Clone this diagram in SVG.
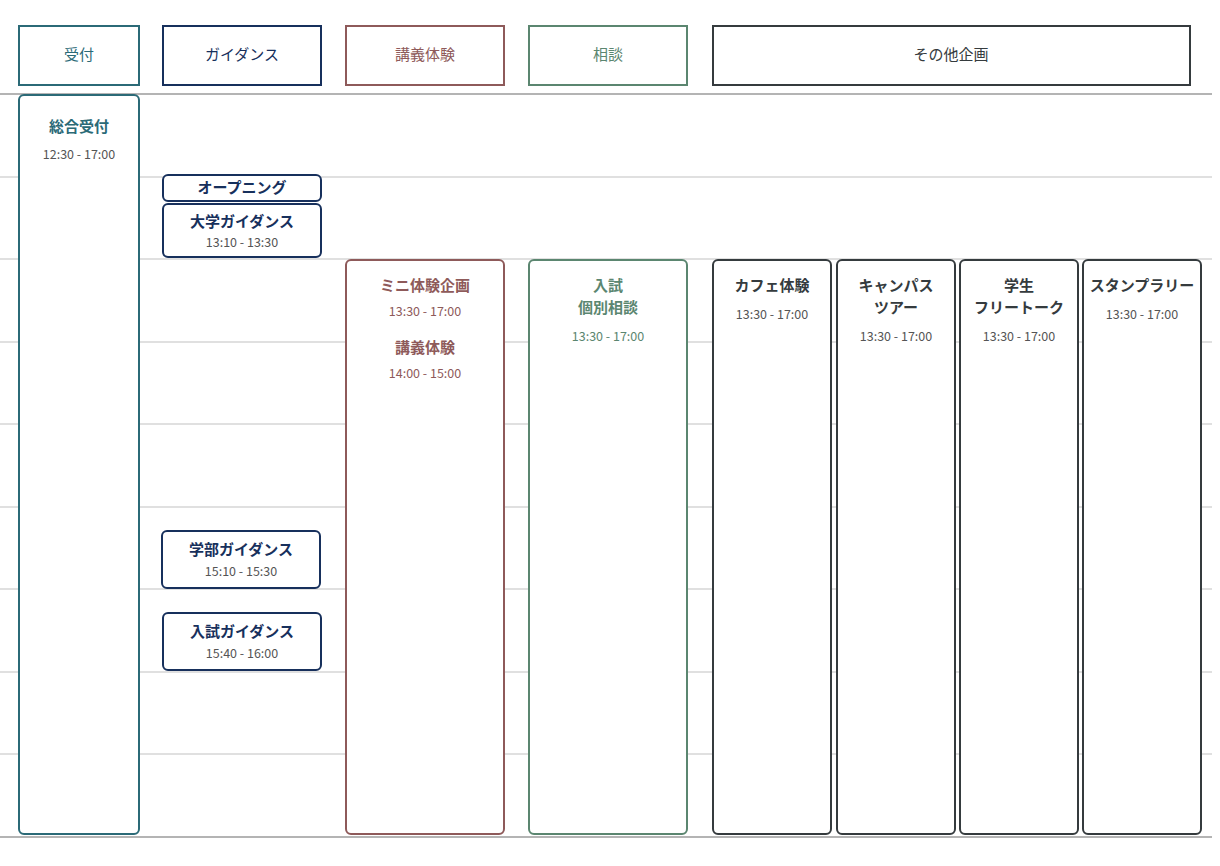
<svg xmlns="http://www.w3.org/2000/svg" width="1220" height="866" viewBox="0 0 1220 866">
<style>
text{font-family:"Noto Sans CJK JP","Noto Sans",sans-serif;text-anchor:middle}
.h{font-size:15px}
.t{font-size:15px;font-weight:bold}
.s{font-size:12.5px}
.g{stroke:#d6d6d6;stroke-width:1.5}
.gb{stroke:#b4b4b4;stroke-width:2}
.box{fill:#fff;stroke-width:2}
.c1{stroke:#2b6a77}.f1{fill:#2b6a77}
.c2{stroke:#17305c}.f2{fill:#17305c}
.c3{stroke:#8e5a5a}.f3{fill:#8e5a5a}
.c4{stroke:#5b8670}.f4{fill:#5b8670}
.c5{stroke:#353b3e}.f5{fill:#353b3e}
.tm{fill:#555}
</style>
<g id="grid">
<line class="gb" x1="0" y1="94" x2="1212" y2="94"/>
<line class="g" x1="0" y1="177" x2="1212" y2="177"/>
<line class="g" x1="0" y1="259" x2="1212" y2="259"/>
<line class="g" x1="0" y1="342" x2="1212" y2="342"/>
<line class="g" x1="0" y1="424" x2="1212" y2="424"/>
<line class="g" x1="0" y1="507" x2="1212" y2="507"/>
<line class="g" x1="0" y1="589" x2="1212" y2="589"/>
<line class="g" x1="0" y1="672" x2="1212" y2="672"/>
<line class="g" x1="0" y1="754" x2="1212" y2="754"/>
<line class="gb" x1="0" y1="837" x2="1212" y2="837"/>
</g>
<g id="headers">
<g id="h1"><rect class="box c1" x="19" y="26" width="120" height="59"/><text class="h f1" x="79" y="60">受付</text></g>
<g id="h2"><rect class="box c2" x="163" y="26" width="158" height="59"/><text class="h f2" x="242" y="60">ガイダンス</text></g>
<g id="h3"><rect class="box c3" x="346" y="26" width="158" height="59"/><text class="h f3" x="425" y="60">講義体験</text></g>
<g id="h4"><rect class="box c4" x="529" y="26" width="158" height="59"/><text class="h f4" x="608" y="60">相談</text></g>
<g id="h5"><rect class="box c5" x="713" y="26" width="477" height="59"/><text class="h f5" x="951" y="60">その他企画</text></g>
</g>
<g id="n1"><rect class="box c1" x="19" y="95" width="120" height="739" rx="5"/><text class="t f1" x="79" y="132">総合受付</text><text class="s tm" x="79" y="159">12:30 - 17:00</text></g>
<g id="n2"><rect class="box c2" x="163" y="175" width="158" height="26" rx="5"/><text class="t f2" x="242" y="193">オープニング</text></g>
<g id="n3"><rect class="box c2" x="163" y="204" width="158" height="53" rx="5"/><text class="t f2" x="242" y="227">大学ガイダンス</text><text class="s tm" x="242" y="247">13:10 - 13:30</text></g>
<g id="n4"><rect class="box c2" x="162" y="531" width="158" height="57" rx="5"/><text class="t f2" x="241" y="555">学部ガイダンス</text><text class="s tm" x="241" y="576">15:10 - 15:30</text></g>
<g id="n5"><rect class="box c2" x="163" y="613" width="158" height="57" rx="5"/><text class="t f2" x="242" y="637">入試ガイダンス</text><text class="s tm" x="242" y="658">15:40 - 16:00</text></g>
<g id="n6"><rect class="box c3" x="346" y="260" width="158" height="574" rx="5"/><text class="t f3" x="425" y="291">ミニ体験企画</text><text class="s f3" x="425" y="316">13:30 - 17:00</text><text class="t f3" x="425" y="353">講義体験</text><text class="s f3" x="425" y="378">14:00 - 15:00</text></g>
<g id="n7"><rect class="box c4" x="529" y="260" width="158" height="574" rx="5"/><text class="t f4" x="608" y="291">入試</text><text class="t f4" x="608" y="313">個別相談</text><text class="s f4" x="608" y="341">13:30 - 17:00</text></g>
<g id="n8"><rect class="box c5" x="713" y="260" width="118" height="574" rx="5"/><text class="t f5" x="772" y="291">カフェ体験</text><text class="s tm" x="772" y="319">13:30 - 17:00</text></g>
<g id="n9"><rect class="box c5" x="837" y="260" width="118" height="574" rx="5"/><text class="t f5" x="896" y="291">キャンパス</text><text class="t f5" x="896" y="313">ツアー</text><text class="s tm" x="896" y="341">13:30 - 17:00</text></g>
<g id="n10"><rect class="box c5" x="960" y="260" width="118" height="574" rx="5"/><text class="t f5" x="1019" y="291">学生</text><text class="t f5" x="1019" y="313">フリートーク</text><text class="s tm" x="1019" y="341">13:30 - 17:00</text></g>
<g id="n11"><rect class="box c5" x="1083" y="260" width="118" height="574" rx="5"/><text class="t f5" x="1142" y="291">スタンプラリー</text><text class="s tm" x="1142" y="319">13:30 - 17:00</text></g>
<g id="connectors"/>
</svg>
